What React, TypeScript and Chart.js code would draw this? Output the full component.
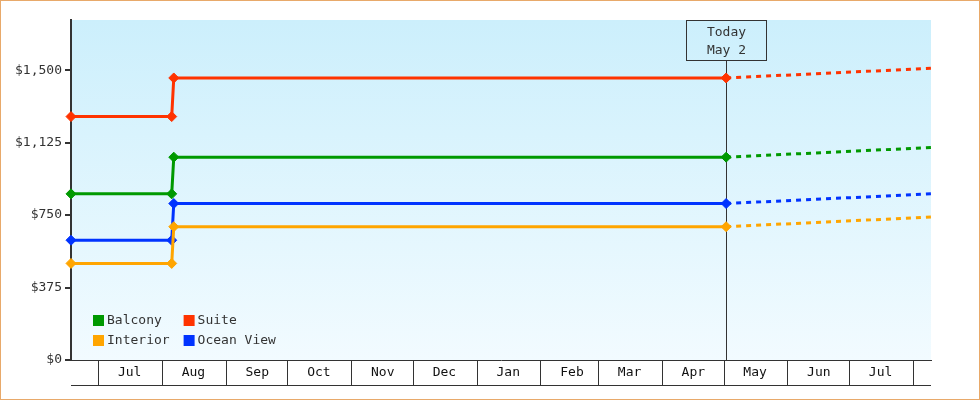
import { useEffect, useRef } from "react"
import { Chart, registerables } from "chart.js"

Chart.register(...registerables)

const FONT = "'DejaVu Sans Mono', monospace"

// Room types and their colours
const roomTypes = ["Balcony", "Suite", "Interior", "Ocean View"]
const roomColors = ["#009900", "#FF3300", "#FFA500", "#0033FF"]

// Dates of the price points (last one is the forecast end)
const pointDates = [
  "2024-06-17T13:00:00Z",
  "2024-08-05T12:00:00Z",
  "2024-08-06T12:00:00Z",
  "2025-05-02T00:00:00Z",
  "2025-08-09T14:00:00Z",
]

// Prices per room type
const balconyPrices = [860, 860, 1050, 1050, 1100]
const suitePrices = [1260, 1260, 1460, 1460, 1510]
const interiorPrices = [500, 500, 690, 690, 740]
const oceanViewPrices = [620, 620, 810, 810, 860]
const allPrices = [balconyPrices, suitePrices, interiorPrices, oceanViewPrices]

// Axis ticks
const yTicks = [0, 375, 750, 1125, 1500]
const yMax = 1760
const monthStarts = [
  "2024-07-01", "2024-08-01", "2024-09-01", "2024-10-01", "2024-11-01",
  "2024-12-01", "2025-01-01", "2025-02-01", "2025-03-01", "2025-04-01",
  "2025-05-01", "2025-06-01", "2025-07-01", "2025-08-01",
]
const monthLabels = ["Jul", "Aug", "Sep", "Oct", "Nov", "Dec", "Jan", "Feb", "Mar", "Apr", "May", "Jun", "Jul", ""]
const xMin = "2024-06-17T13:00:00Z"
const xMax = "2025-08-09T14:00:00Z"

// Today marker
const todayDate = "2025-05-02T00:00:00Z"
const todayLabel = ["Today", "May 2"]

const todayTime = Date.parse(todayDate)

const backgroundPlugin = {
  id: "plotBackground",
  beforeDraw(chart: any) {
    const { ctx, chartArea } = chart
    const { left, top, right, bottom } = chartArea
    const g = ctx.createLinearGradient(0, top, 0, bottom)
    g.addColorStop(0, "#CCEFFC")
    g.addColorStop(1, "#F2FBFF")
    ctx.save()
    ctx.fillStyle = g
    ctx.fillRect(left, top, right - left, bottom - top)
    ctx.restore()
  },
}

const todayPlugin = {
  id: "todayMarker",
  beforeDatasetsDraw(chart: any) {
    const { ctx, chartArea } = chart
    const x = Math.round(chart.scales.x.getPixelForValue(todayTime)) + 0.5
    const top = chartArea.top
    ctx.save()
    ctx.strokeStyle = "#333"
    ctx.lineWidth = 1
    ctx.strokeRect(x - 40, top + 0.5, 80, 40)
    ctx.beginPath()
    ctx.moveTo(x, top + 40.5)
    ctx.lineTo(x, chartArea.bottom)
    ctx.stroke()
    ctx.fillStyle = "#333"
    ctx.font = `13px ${FONT}`
    ctx.textAlign = "center"
    ctx.textBaseline = "middle"
    ctx.fillText(todayLabel[0], x, top + 13)
    ctx.fillText(todayLabel[1], x, top + 30.5)
    ctx.restore()
  },
}

// legend in two columns at the bottom left of the plot
const legendPlugin = {
  id: "cornerLegend",
  afterDatasetsDraw(chart: any) {
    const { ctx, chartArea } = chart
    const sets = chart.data.datasets
    const box = 11
    ctx.save()
    ctx.font = `13px ${FONT}`
    ctx.textBaseline = "middle"
    const firstCol = sets.filter((_d: any, i: number) => i % 2 === 0)
    const colW = box + 3 + Math.max(...firstCol.map((d: any) => ctx.measureText(d.label).width)) + 14
    sets.forEach((ds: any, i: number) => {
      const x = chartArea.left + 22 + (i % 2) * colW
      const y = chartArea.bottom - 45 + Math.floor(i / 2) * 20
      ctx.fillStyle = ds.borderColor
      ctx.fillRect(x, y, box, box)
      ctx.fillStyle = "#333"
      ctx.fillText(ds.label, x + box + 3, y + box / 2 + 0.5)
    })
    ctx.restore()
  },
}

const framePlugin = {
  id: "frame",
  afterDraw(chart: any) {
    const { ctx } = chart
    const xs = chart.scales.x
    ctx.save()
    ctx.strokeStyle = "#333"
    ctx.lineWidth = 1
    ctx.beginPath()
    ctx.moveTo(xs.left, xs.bottom + 0.5)
    ctx.lineTo(xs.right, xs.bottom + 0.5)
    ctx.stroke()
    ctx.strokeStyle = "#E8A96A"
    ctx.strokeRect(0.5, 0.5, chart.width - 1, chart.height - 1)
    ctx.restore()
  },
}

export default function App() {
  const chartRef = useRef<HTMLCanvasElement>(null)
  const chartInstance = useRef<Chart | null>(null)

  useEffect(() => {
    document.body.style.margin = "0"
    if (!chartRef.current) return

    if (chartInstance.current) {
      chartInstance.current.destroy()
    }

    const datasets = roomTypes.map((name, i) => ({
      label: name,
      data: pointDates.map((d, j) => ({ x: Date.parse(d), y: allPrices[i][j] })),
      borderColor: roomColors[i],
      backgroundColor: roomColors[i],
      pointBackgroundColor: roomColors[i],
      pointBorderColor: roomColors[i],
      pointStyle: "rectRot",
      pointRadius: pointDates.map((d) => (Date.parse(d) > todayTime ? 0 : 5)),
      pointBorderWidth: 1,
      borderWidth: 3,
      tension: 0,
      fill: false,
      clip: false,
      segment: {
        borderDash: (ctx: any) => (ctx.p0.parsed.x >= todayTime ? [5, 5] : undefined),
      },
    }))

    const ctx = chartRef.current.getContext("2d")
    if (ctx) {
      chartInstance.current = new Chart(ctx, {
        type: "line",
        data: { datasets } as any,
        options: {
          responsive: true,
          maintainAspectRatio: false,
          animation: false,
          events: [],
          layout: { padding: { top: 20, right: 49, bottom: 15, left: 0 } },
          scales: {
            x: {
              type: "linear",
              min: Date.parse(xMin),
              max: Date.parse(xMax),
              afterBuildTicks: (scale: any) => {
                scale.ticks = monthStarts.map((m) => ({ value: Date.parse(m + "T00:00:00Z") }))
              },
              afterFit: (scale: any) => {
                scale.height = 25
              },
              grid: {
                drawOnChartArea: false,
                drawTicks: true,
                tickLength: 25,
                color: "#333",
                lineWidth: 1,
              },
              border: { display: true, color: "#333", width: 1 },
              ticks: {
                autoSkip: false,
                maxRotation: 0,
                minRotation: 0,
                labelOffset: 31,
                padding: -20,
                color: "#111",
                font: { family: FONT, size: 13 },
                callback: (_v: any, index: number) => monthLabels[index],
              },
            },
            y: {
              type: "linear",
              min: 0,
              max: yMax,
              afterBuildTicks: (scale: any) => {
                scale.ticks = yTicks.map((v) => ({ value: v }))
              },
              afterFit: (scale: any) => {
                scale.width = 71
              },
              grid: {
                drawOnChartArea: false,
                drawTicks: true,
                tickLength: 6,
                color: "#333",
                lineWidth: 2,
              },
              border: { display: true, color: "#333", width: 2 },
              ticks: {
                padding: 3,
                color: "#333",
                font: { family: FONT, size: 13 },
                callback: (v: any) => "$" + Number(v).toLocaleString("en-US"),
              },
            },
          },
          plugins: {
            legend: { display: false },
            tooltip: { enabled: false },
          },
        },
        plugins: [backgroundPlugin, todayPlugin, legendPlugin, framePlugin],
      })
    }

    return () => {
      if (chartInstance.current) {
        chartInstance.current.destroy()
        chartInstance.current = null
      }
    }
  }, [])

  return (
    <div style={{ position: "relative", width: 980, height: 400 }}>
      <canvas ref={chartRef} />
    </div>
  )
}
